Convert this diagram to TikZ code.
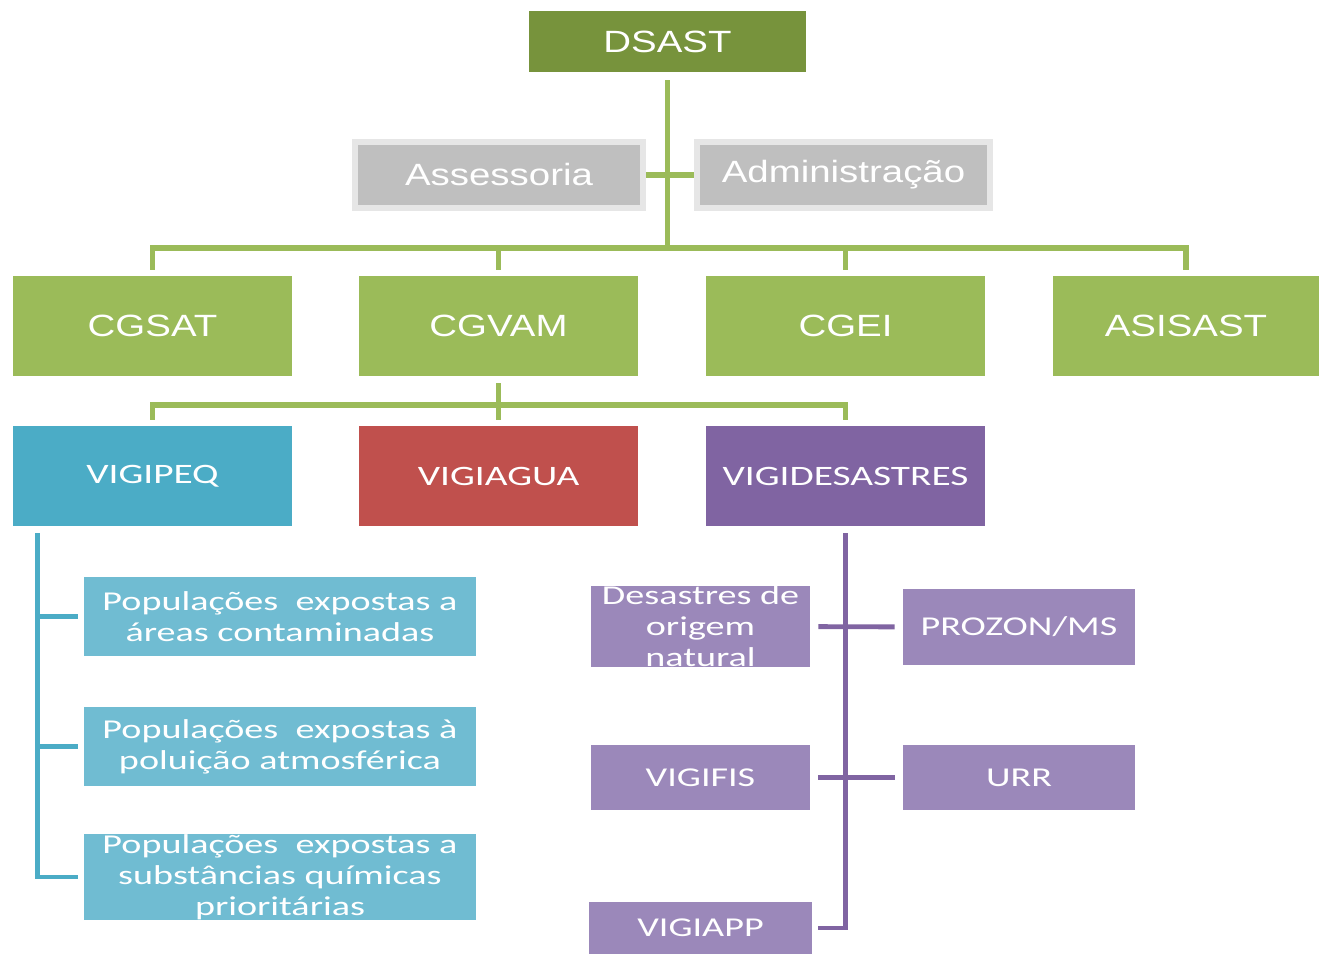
\documentclass[tikz,border=0pt]{standalone}
\usepackage{fontspec}
\setmainfont{Liberation Sans}[FakeStretch=1.25]
\newfontfamily\calib{Carlito}[FakeStretch=1.4]
\definecolor{dsastgreen}{HTML}{77933C}
\definecolor{lgreen}{HTML}{9BBB59}
\definecolor{boxgray}{HTML}{BFBFBF}
\definecolor{halogray}{HTML}{E6E6E6}
\definecolor{vcyan}{HTML}{4BACC6}
\definecolor{popcyan}{HTML}{70BCD2}
\definecolor{vred}{HTML}{C0504D}
\definecolor{vpurple}{HTML}{8064A2}
\definecolor{despurple}{HTML}{9B88BA}
\tikzset{
  box/.style={rectangle, inner sep=0pt, text=white, align=center},
  topbox/.style={box, font=\fontsize{17.5}{21}\selectfont},
  graybox/.style={topbox, fill=boxgray, draw=halogray, line width=3.4pt},
  rowbox/.style={topbox, fill=lgreen, minimum width=5.58cm, minimum height=2cm},
  vigbox/.style={box, font=\calib\fontsize{16}{19}\selectfont, minimum width=5.58cm, minimum height=2cm},
  popbox/.style={box, fill=popcyan, font=\calib\fontsize{15.5}{17.6}\selectfont, minimum width=7.84cm, minimum height=1.58cm},
  desbox/.style={box, fill=despurple, font=\calib\fontsize{15.5}{17.6}\selectfont, minimum width=4.38cm},
  gline/.style={draw=lgreen, line width=3pt},
  cline/.style={draw=vcyan, line width=2.6pt},
  pline/.style={draw=vpurple, line width=2.8pt}
}
\begin{document}
\begin{tikzpicture}[x=0.02cm, y=-0.02cm]
    \useasboundingbox (0,0) rectangle (1319,954);
    \node[topbox, fill=dsastgreen, minimum width=5.54cm, minimum height=1.22cm] (dsast) at (667.5,41.5) {DSAST};
    \node[graybox, minimum width=5.76cm, minimum height=1.32cm] (assess) at (499,175) {Assessoria};
    \node[graybox, minimum width=5.86cm, minimum height=1.32cm] (admin) at (843.5,175) {Administração};
    \foreach \nm/\x/\txt in {cgsat/152.5/CGSAT, cgvam/498.5/CGVAM, cgei/845.5/CGEI}
      \node[rowbox] (\nm) at (\x,326) {\txt};
    \node[rowbox, minimum width=5.32cm] (asisast) at (1186,326) {ASISAST};
    \node[vigbox, fill=vcyan] (vigipeq) at (152.5,476) {VIGIPEQ};
    \node[vigbox, fill=vred] (vigiagua) at (498.5,476) {VIGIAGUA};
    \node[vigbox, fill=vpurple] (vigidesastres) at (845.5,476) {VIGIDESASTRES};
    \node[popbox] (pop1) at (280,616.5) {Populações~ expostas a\\áreas contaminadas};
    \node[popbox] (pop2) at (280,746.5) {Populações~ expostas à\\poluição atmosférica};
    \node[popbox] (pop3) at (280,877) {Populações~ expostas a\\substâncias químicas\\prioritárias};
    \node[desbox, minimum height=1.5cm] (natural) at (700.5,626.5) {Desastres de\\origem\\natural};
    \node[desbox, minimum width=4.64cm, minimum height=1.52cm] (prozon) at (1019,627) {PROZON/MS};
    \node[desbox, minimum height=1.3cm] (vigifis) at (700.5,777.5) {VIGIFIS};
    \node[desbox, minimum width=4.64cm, minimum height=1.3cm] (urr) at (1019,777.5) {URR};
    \node[desbox, minimum width=4.46cm, minimum height=1.04cm] (vigiapp) at (700.5,928) {VIGIAPP};
    % top level
    \coordinate (top) at (667.5,248);
    \draw[gline, shorten <=0.16cm] (dsast) -- (top);
    \draw[gline] (assess) -- (admin);
    \draw[gline, shorten >=0.12cm] (top) -| (cgsat);
    \draw[gline, shorten >=0.12cm] (top) -| (asisast);
    \draw[gline, shorten >=0.12cm] (top -| cgvam) -- (cgvam);
    \draw[gline, shorten >=0.12cm] (top -| cgei) -- (cgei);
    \coordinate (mid) at (498.5,405);
    \draw[gline, shorten <=0.14cm] (cgvam) -- (mid);
    \draw[gline, shorten >=0.12cm] (mid) -| (vigipeq);
    \draw[gline, shorten >=0.12cm] (mid) -| (vigidesastres);
    \draw[gline, shorten >=0.12cm] (mid) -- (vigiagua);
    % VIGIPEQ
    \coordinate (ctop) at ([xshift=0.5cm]vigipeq.south west);
    \draw[cline, shorten <=0.14cm, shorten >=0.12cm] (ctop) |- (pop3);
    \draw[cline, shorten >=0.12cm] (ctop |- pop1) -- (pop1);
    \draw[cline, shorten >=0.12cm] (ctop |- pop2) -- (pop2);
    % VIGIDESASTRES
    \draw[pline, shorten <=0.14cm, shorten >=0.12cm] (vigidesastres) |- (vigiapp);
    \draw[pline, shorten <=0.16cm, shorten >=0.16cm] (natural) -- (prozon);
    \draw[pline, shorten <=0.16cm, shorten >=0.16cm] (vigifis) -- (urr);
\end{tikzpicture}
\end{document}
